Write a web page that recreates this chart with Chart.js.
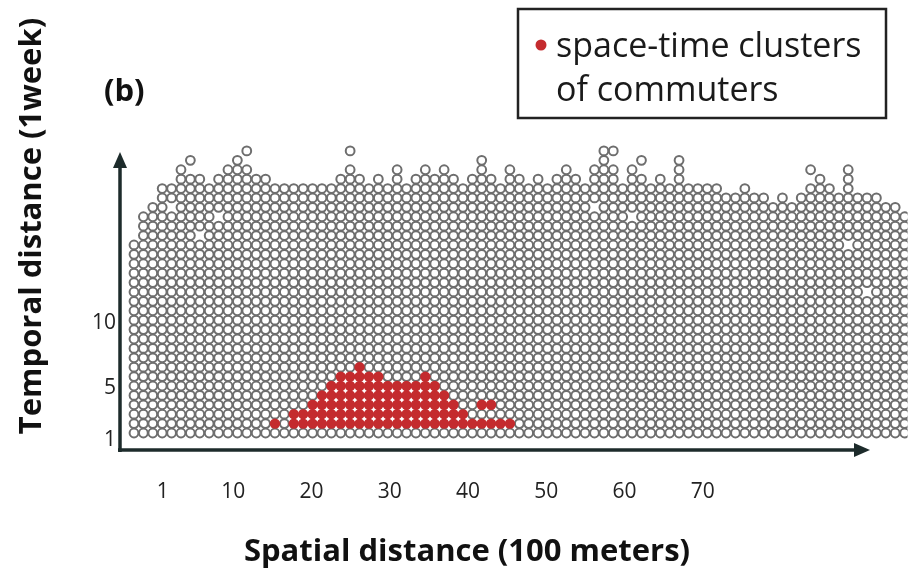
<!DOCTYPE html>
<html>
<head>
<meta charset="utf-8">
<script src="https://cdn.jsdelivr.net/npm/chart.js@4.4.0/dist/chart.umd.min.js"></script>
<style>
  html, body { margin: 0; padding: 0; background: #fff; }
  #wrap { width: 914px; height: 570px; }
</style>
</head>
<body>
<div id="wrap"><canvas id="chart" width="914" height="570"></canvas></div>
<script>
// ── Data ─────────────────────────────────────────────────────────
// top row (temporal distance) reached by the grey grid in each spatial column
var colTop = [
  21, 24, 25, 27, 27, 29, 28, 28, 27, 28, 29, 30, 29, 28, 28, 27, 27, 27, 27, 27,
  27, 27, 28, 29, 28, 27, 28, 27, 29, 27, 28, 29, 28, 29, 28, 27, 28, 29, 28, 27,
  29, 28, 27, 28, 27, 28, 29, 28, 27, 29, 30, 29, 27, 29, 28, 27, 28, 27, 29, 27,
  27, 27, 27, 26, 26, 27, 26, 26, 25, 26, 25, 26, 27, 28, 27, 26, 28, 26, 26, 26,
  25, 25, 24
];
// isolated grey points above the grid [column, row]
var outliers = [
  [7, 30], [13, 31], [24, 31], [38, 30], [51, 31], [52, 31],
  [55, 30], [59, 30], [73, 29], [77, 29]
];
// empty cells inside the grid [column, row]
var holes = [
  [5, 25], [8, 22], [10, 24], [50, 25], [54, 24], [77, 21], [79, 16]
];
// red cluster: per column, lowest and highest row
var redCols   = [16, 18, 19, 20, 21, 22, 23, 24, 25, 26, 27, 28, 29, 30, 31, 32, 33, 34, 35, 36, 37, 38, 39, 40, 41];
var redBottom = [ 2,  2,  2,  2,  2,  2,  2,  2,  2,  2,  2,  2,  2,  2,  2,  2,  2,  2,  2,  2,  2,  2,  2,  2,  2];
var redTop    = [ 2,  3,  3,  4,  5,  6,  7,  7,  8,  7,  7,  6,  6,  6,  6,  7,  6,  5,  4,  3,  2,  2,  2,  2,  2];
var redExtra  = [[38, 4], [39, 4]];

var xTicks = [1, 10, 20, 30, 40, 50, 60, 70];
var yTicks = [1, 5, 10];

// ── Layout (pixels) ──────────────────────────────────────────────
var AREA = { left: 124, right: 908, top: 140, bottom: 450 };
var FIRST_COL_PX = 134, LAST_COL_PX = 905, FIRST_ROW_PX = 433;
var CELL = (LAST_COL_PX - FIRST_COL_PX) / (colTop.length - 1);

var FONT = '"Open Sans", "Noto Sans", sans-serif';
var AXIS_COLOR = '#1d2b2b';
var RED = '#c42b2e';

// ── Build points ─────────────────────────────────────────────────
var skip = {};
var redPts = [];
redCols.forEach(function (c, i) {
  for (var r = redBottom[i]; r <= redTop[i]; r++) {
    skip[c + ':' + r] = true;
    redPts.push({ x: c, y: r });
  }
});
redExtra.forEach(function (p) {
  skip[p[0] + ':' + p[1]] = true;
  redPts.push({ x: p[0], y: p[1] });
});
holes.forEach(function (p) { skip[p[0] + ':' + p[1]] = true; });

var greyPts = [];
colTop.forEach(function (top, i) {
  var c = i + 1;
  for (var r = 1; r <= top; r++) {
    if (!skip[c + ':' + r]) greyPts.push({ x: c, y: r });
  }
});
outliers.forEach(function (p) { greyPts.push({ x: p[0], y: p[1] }); });

// scale ranges so that column/row 1 land on the grid origin
var w = AREA.right - AREA.left, h = AREA.bottom - AREA.top;
var xMin = 1 - (FIRST_COL_PX - AREA.left) / CELL;
var yMin = 1 - (AREA.bottom - FIRST_ROW_PX) / CELL;

// label axes (the figure's tick labels are spaced on their own)
var xlSlope = 7.83, xlZeroPx = 155;
var xlMin = (AREA.left - xlZeroPx) / xlSlope;
var ylSlope = 13;
var ylMin = 1 - (AREA.bottom - 440) / ylSlope;

/** Draw an arrow from (x1,y1) to (x2,y2) */
function arrow(ctx, x1, y1, x2, y2) {
  var ang = Math.atan2(y2 - y1, x2 - x1);
  var len = 16, half = 7;
  ctx.beginPath();
  ctx.moveTo(x1, y1);
  ctx.lineTo(x2 - Math.cos(ang) * len * 0.8, y2 - Math.sin(ang) * len * 0.8);
  ctx.stroke();
  ctx.beginPath();
  ctx.moveTo(x2, y2);
  ctx.lineTo(x2 - Math.cos(ang) * len - Math.sin(ang) * half, y2 - Math.sin(ang) * len + Math.cos(ang) * half);
  ctx.lineTo(x2 - Math.cos(ang) * len + Math.sin(ang) * half, y2 - Math.sin(ang) * len - Math.cos(ang) * half);
  ctx.closePath();
  ctx.fill();
}

var decor = {
  id: 'decor',
  afterDatasetsDraw: function (chart) {
    var ctx = chart.ctx;
    ctx.save();
    // axes
    ctx.strokeStyle = AXIS_COLOR;
    ctx.fillStyle = AXIS_COLOR;
    ctx.lineWidth = 3.5;
    arrow(ctx, 120, 452, 120, 152);
    arrow(ctx, 118, 450, 870, 450);

    // panel label
    ctx.fillStyle = '#111';
    ctx.font = 'bold 31px ' + FONT;
    ctx.fillText('(b)', 104, 101);

    // axis titles
    ctx.font = 'bold 31px ' + FONT;
    ctx.textAlign = 'center';
    ctx.fillText('Spatial distance (100 meters)', 467, 561);
    ctx.save();
    ctx.translate(41, 226);
    ctx.rotate(-Math.PI / 2);
    ctx.fillText('Temporal distance (1week)', 0, 0);
    ctx.restore();

    // legend
    ctx.textAlign = 'left';
    ctx.strokeStyle = '#222';
    ctx.lineWidth = 2.5;
    ctx.strokeRect(518, 9, 368, 109);
    ctx.fillStyle = RED;
    ctx.beginPath();
    ctx.arc(541, 45, 5.5, 0, Math.PI * 2);
    ctx.fill();
    ctx.fillStyle = '#1a1a1a';
    ctx.font = '34px ' + FONT;
    ctx.fillText('space-time clusters', 556, 57);
    ctx.fillText('of commuters', 556, 101);
    ctx.restore();
  }
};

new Chart(document.getElementById('chart'), {
  type: 'scatter',
  data: {
    datasets: [{
      label: 'space-time clusters of commuters',
      data: redPts,
      order: 0,
      pointStyle: 'circle',
      pointRadius: 5.2,
      borderWidth: 0,
      backgroundColor: RED
    }, {
      label: 'grid',
      data: greyPts,
      order: 1,
      pointStyle: 'circle',
      pointRadius: 4.4,
      borderWidth: 2,
      borderColor: '#6e6e6e',
      backgroundColor: '#ffffff'
    }]
  },
  options: {
    responsive: false,
    animation: false,
    events: [],
    layout: { padding: { left: 0, right: 914 - AREA.right, top: AREA.top, bottom: 0 } },
    plugins: { legend: { display: false }, tooltip: { enabled: false } },
    scales: {
      x: { type: 'linear', display: false, min: xMin, max: xMin + w / CELL },
      y: { type: 'linear', display: false, min: yMin, max: yMin + h / CELL },
      xl: {
        type: 'linear', position: 'bottom', min: xlMin, max: xlMin + w / xlSlope,
        grid: { display: false, drawTicks: false }, border: { display: false },
        afterBuildTicks: function (s) { s.ticks = xTicks.map(function (v) { return { value: v }; }); },
        afterFit: function (s) { s.height = 570 - AREA.bottom; },
        ticks: { padding: 29, color: '#222', font: { family: FONT, size: 21 }, maxRotation: 0, autoSkip: false }
      },
      yl: {
        type: 'linear', position: 'left', min: ylMin, max: ylMin + h / ylSlope,
        grid: { display: false, drawTicks: false }, border: { display: false },
        afterBuildTicks: function (s) { s.ticks = yTicks.map(function (v) { return { value: v }; }); },
        afterFit: function (s) { s.width = AREA.left; },
        ticks: { padding: 8, color: '#222', font: { family: FONT, size: 21 }, autoSkip: false }
      }
    }
  },
  plugins: [decor]
});
</script>
</body>
</html>
